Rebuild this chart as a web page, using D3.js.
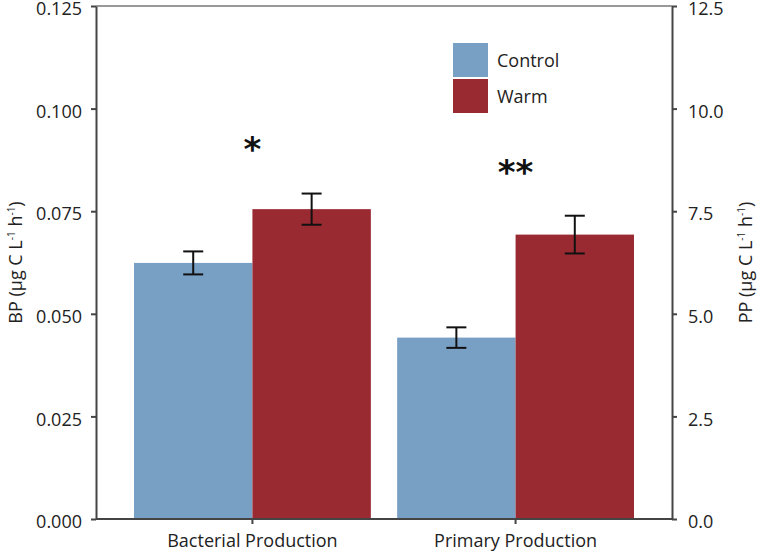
<!doctype html>
<html lang="en">
<head>
  <meta charset="utf-8">
  <title>BP and PP</title>
  <script src="https://cdnjs.cloudflare.com/ajax/libs/d3/7.8.5/d3.min.js"></script>
  <style>
    body { margin: 0; background: #fff; }
    text { font-family: "Open Sans", sans-serif; fill: #222; }
  </style>
</head>
<body>
<div id="chart"></div>
<script>
// data
var categories = ["Bacterial Production", "Primary Production"];
var series = ["Control", "Warm"];
var bpValues = [0.0624, 0.0755];   // left axis, Bacterial Production
var bpErrors = [0.0028, 0.0038];
var ppValues = [4.42, 6.93];       // right axis, Primary Production
var ppErrors = [0.25, 0.46];
var leftTicks = [0, 0.025, 0.05, 0.075, 0.1, 0.125];
var rightTicks = [0, 2.5, 5, 7.5, 10, 12.5];
var stars = ["*", "**"];
var colors = ["#789fc4", "#9a2a31"];

var width = 760, height = 555;
var plotLeft = 96, plotRight = 672, plotTop = 6, plotBottom = 519;

var svg = d3.select("#chart").append("svg")
  .attr("width", width)
  .attr("height", height);

var x = d3.scaleBand()
  .domain(categories)
  .range([134, 634])
  .paddingInner(0.1);

var xs = d3.scaleBand()
  .domain(series)
  .range([0, x.bandwidth()]);

var yL = d3.scaleLinear().domain([0, 0.125]).range([plotBottom, plotTop]);
var yR = d3.scaleLinear().domain([0, 12.5]).range([plotBottom, plotTop]);

// rows: one per bar, with its own scale
var rows = [];
series.forEach(function(s, i) {
  rows.push({cat: categories[0], s: s, v: bpValues[i], e: bpErrors[i], y: yL, c: colors[i]});
});
series.forEach(function(s, i) {
  rows.push({cat: categories[1], s: s, v: ppValues[i], e: ppErrors[i], y: yR, c: colors[i]});
});

// top frame line
svg.append("line")
  .attr("x1", plotLeft).attr("x2", plotRight)
  .attr("y1", plotTop).attr("y2", plotTop)
  .attr("stroke", "#999").attr("stroke-width", 2);

// bars
svg.selectAll("rect.bar")
  .data(rows)
  .enter()
  .append("rect")
    .attr("class", "bar")
    .attr("x", function(d) { return x(d.cat) + xs(d.s); })
    .attr("y", function(d) { return d.y(d.v); })
    .attr("width", xs.bandwidth())
    .attr("height", function(d) { return plotBottom - d.y(d.v); })
    .attr("fill", function(d) { return d.c; });

// error bars
var eb = svg.selectAll("g.err")
  .data(rows)
  .enter()
  .append("g")
    .attr("class", "err")
    .attr("transform", function(d) { return "translate(" + (x(d.cat) + xs(d.s) + xs.bandwidth() / 2) + ",0)"; });
eb.append("line")
  .attr("x1", 0).attr("x2", 0)
  .attr("y1", function(d) { return d.y(d.v + d.e); })
  .attr("y2", function(d) { return d.y(d.v - d.e); });
eb.append("line")
  .attr("x1", -10).attr("x2", 10)
  .attr("y1", function(d) { return d.y(d.v + d.e); })
  .attr("y2", function(d) { return d.y(d.v + d.e); });
eb.append("line")
  .attr("x1", -10).attr("x2", 10)
  .attr("y1", function(d) { return d.y(d.v - d.e); })
  .attr("y2", function(d) { return d.y(d.v - d.e); });
eb.selectAll("line").attr("stroke", "#111").attr("stroke-width", 2);

// axes
function styleAxis(g) {
  g.select(".domain").attr("stroke", "#444").attr("stroke-width", 2);
  g.selectAll(".tick line").attr("stroke", "#444").attr("stroke-width", 2);
  g.selectAll(".tick text").attr("fill", "#222").style("font-family", "'Open Sans', sans-serif");
}

svg.append("g")
  .attr("transform", "translate(" + plotLeft + ",0)")
  .call(d3.axisLeft(yL).tickValues(leftTicks).tickFormat(d3.format(".3f")).tickSize(5).tickSizeOuter(0).tickPadding(9))
  .call(styleAxis)
  .selectAll(".tick text").attr("y", 3).style("font-size", "18px");

svg.append("g")
  .attr("transform", "translate(" + plotRight + ",0)")
  .call(d3.axisRight(yR).tickValues(rightTicks).tickFormat(d3.format(".1f")).tickSize(5).tickSizeOuter(0).tickPadding(11))
  .call(styleAxis)
  .selectAll(".tick text").attr("y", 3).style("font-size", "18px");

var xAxis = svg.append("g")
  .attr("transform", "translate(0," + plotBottom + ")")
  .call(d3.axisBottom(x).tickSize(5).tickSizeOuter(0).tickPadding(10))
  .call(styleAxis);
xAxis.select(".domain").attr("d", "M" + plotLeft + ",0H" + plotRight);
xAxis.selectAll(".tick text").style("font-size", "18px");

// axis titles with superscripts
function unitTitle(prefix, tx, ty) {
  var t = svg.append("text")
    .attr("transform", "translate(" + tx + "," + ty + ") rotate(-90)")
    .attr("text-anchor", "middle")
    .style("font-size", "18px");
  t.append("tspan").text(prefix + " (\u00b5g C L");
  t.append("tspan").text("-1").attr("dy", -7).style("font-size", "10px");
  t.append("tspan").text(" h").attr("dy", 7);
  t.append("tspan").text("-1").attr("dy", -7).style("font-size", "10px");
  t.append("tspan").text(")").attr("dy", 7);
}
unitTitle("BP", 22, (plotTop + plotBottom) / 2);
unitTitle("PP", 752, (plotTop + plotBottom) / 2);

// significance stars
svg.selectAll("text.star")
  .data(categories)
  .enter()
  .append("text")
    .attr("class", "star")
    .attr("x", function(d) { return x(d) + xs.bandwidth(); })
    .attr("y", function(d, i) { return i === 0 ? 161 : 184; })
    .attr("text-anchor", "middle")
    .style("font-family", "'DejaVu Sans', sans-serif")
    .style("font-weight", "bold")
    .style("font-size", "34px")
    .style("fill", "#111")
    .text(function(d, i) { return stars[i]; });

// legend
var legend = svg.selectAll("g.legend")
  .data(series)
  .enter()
  .append("g")
    .attr("class", "legend")
    .attr("transform", function(d, i) { return "translate(453," + (43 + i * 36) + ")"; });
legend.append("rect")
  .attr("width", 35).attr("height", 34)
  .attr("fill", function(d, i) { return colors[i]; });
legend.append("text")
  .attr("x", 44).attr("y", 24)
  .style("font-size", "18px")
  .text(function(d) { return d; });
</script>
</body>
</html>
